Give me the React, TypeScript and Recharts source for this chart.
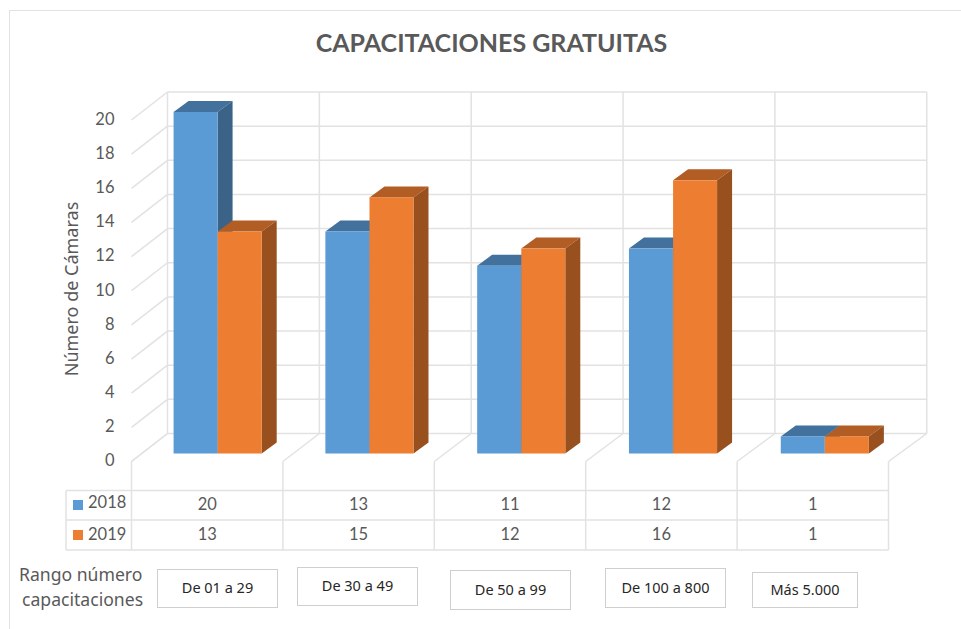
import * as React from "react";
import { BarChart, Bar, XAxis, YAxis, ReferenceLine } from "recharts";

const categories = ["De 01 a 29", "De 30 a 49", "De 50 a 99", "De 100 a 800", "Más 5.000"];
const values2018 = [20, 13, 11, 12, 1];
const values2019 = [13, 15, 12, 16, 1];
const yTicks = [0, 2, 4, 6, 8, 10, 12, 14, 16, 18, 20];

const chartData = categories.map((name, i) => ({
  name,
  y2018: values2018[i],
  y2019: values2019[i],
}));

const FONT = "Lato, sans-serif";
const SIDE_FONT = "'Noto Sans', sans-serif";
const GRID = "#e2e2e2";
const TEXT = "#595959";

const CHART_LEFT = 131.5;
const CHART_RIGHT = 888.5;

// the 3D look: floor/wall depth and the bar depth, in pixels
const WALL_DX = 36;
const WALL_DY = -28;
const BAR_SHIFT_X = 10;
const BAR_SHIFT_Y = -8;
const BAR_DX = 15;
const BAR_DY = -11;
// farther planes are very slightly wider than the front one
const WALL_STRETCH = 0.003;
const BAR_STRETCH = 0.0026;

const ROW_1 = 490.5;
const ROW_2 = 520;
const ROW_3 = 550;
const TABLE_LEFT = 66;

const labelBoxes = [
  { left: 157, top: 569, width: 121, height: 39 },
  { left: 297, top: 567, width: 121, height: 39 },
  { left: 450, top: 570, width: 121, height: 40 },
  { left: 605, top: 568, width: 121, height: 40 },
  { left: 752, top: 572, width: 106, height: 36 },
];

const wallX = (x: number) => x + WALL_DX + (x - CHART_LEFT) * WALL_STRETCH;

function make3DBar(front: string, top: string, side: string) {
  return (props: any) => {
    const x = props.x + BAR_SHIFT_X + (props.x - CHART_LEFT) * BAR_STRETCH;
    const y = props.y + BAR_SHIFT_Y;
    const { width, height } = props;
    return (
      <g>
        <polygon
          fill={top}
          points={`${x},${y} ${x + BAR_DX},${y + BAR_DY} ${x + width + BAR_DX},${y + BAR_DY} ${x + width},${y}`}
        />
        <polygon
          fill={side}
          points={`${x + width},${y} ${x + width + BAR_DX},${y + BAR_DY} ${x + width + BAR_DX},${y + height + BAR_DY} ${x + width},${y + height}`}
        />
        <rect x={x} y={y} width={width} height={height} fill={front} />
      </g>
    );
  };
}

// one gridline: short diagonal on the side wall and the long line on the back wall
function WallLine(props: any) {
  const { x1, x2, y1 } = props;
  const left = Math.min(x1, x2);
  const right = Math.max(x1, x2);
  return (
    <g stroke={GRID} strokeWidth={1.5} fill="none">
      <line x1={left} y1={y1} x2={wallX(left)} y2={y1 + WALL_DY} />
      <line x1={wallX(left)} y1={y1 + WALL_DY} x2={wallX(right)} y2={y1 + WALL_DY} />
    </g>
  );
}

// one column edge: wall vertical, floor diagonal and the drop into the table
function ColumnEdge(props: any) {
  const x = Math.min(props.x1, props.x2);
  const yTop = Math.min(props.y1, props.y2);
  const yBottom = Math.max(props.y1, props.y2);
  return (
    <g stroke={GRID} strokeWidth={1.5} fill="none">
      <line x1={wallX(x)} y1={yTop + WALL_DY} x2={wallX(x)} y2={yBottom + WALL_DY} />
      <line x1={wallX(x)} y1={yBottom + WALL_DY} x2={x} y2={yBottom} />
      <line x1={x} y1={yBottom} x2={x} y2={ROW_3} />
    </g>
  );
}

// table values are drawn under each category tick
function TableTick(props: any) {
  const { x, index } = props;
  const cell = (value: number, y: number) => (
    <text x={x} y={y} textAnchor="middle" dominantBaseline="central" fontSize={16.5} fontFamily={FONT} fill={TEXT}>
      {value}
    </text>
  );
  return (
    <g>
      {cell(values2018[index], 504)}
      {cell(values2019[index], 534)}
    </g>
  );
}

export default function App() {
  return (
    <div style={{ position: "absolute", left: 0, top: 0, width: 961, height: 629, background: "#fff", overflow: "hidden", fontFamily: FONT }}>
      <div style={{ position: "absolute", left: 9, top: 10, width: 960, height: 640, borderLeft: `1.5px solid ${GRID}`, borderTop: `1.5px solid ${GRID}` }} />
      <BarChart
        width={961}
        height={629}
        data={chartData}
        barCategoryGap={32}
        barGap={0}
        margin={{ left: CHART_LEFT - 60, right: 961 - CHART_RIGHT, top: 120, bottom: 107.5 }}
        style={{ position: "absolute", left: 0, top: 0 }}
      >
        <XAxis dataKey="name" axisLine={false} tickLine={false} height={60} interval={0} tick={<TableTick />} />
        <YAxis
          domain={[0, 20]}
          ticks={yTicks}
          interval={0}
          width={60}
          axisLine={false}
          tickLine={false}
          tickMargin={11}
          tick={{ fontSize: 16.5, fontFamily: FONT, fill: TEXT, dy: -1 }}
        />
        {yTicks.map((v) => (
          <ReferenceLine key={v} y={v} ifOverflow="visible" shape={<WallLine />} zIndex={100} />
        ))}
        {categories.map((c) => (
          <ReferenceLine key={c} x={c} position="start" ifOverflow="visible" shape={<ColumnEdge />} zIndex={100} />
        ))}
        <ReferenceLine x={categories[4]} position="end" ifOverflow="visible" shape={<ColumnEdge />} zIndex={100} />
        <Bar dataKey="y2018" fill="#5b9bd5" isAnimationActive={false} shape={make3DBar("#5b9bd5", "#41719c", "#3a6387")} />
        <Bar dataKey="y2019" fill="#ed7d31" isAnimationActive={false} shape={make3DBar("#ed7d31", "#b15d23", "#97501e")} />
      </BarChart>

      {/* data table lines */}
      <svg width={961} height={629} style={{ position: "absolute", left: 0, top: 0, pointerEvents: "none" }}>
        <g stroke={GRID} strokeWidth={1.5} fill="none">
          <line x1={TABLE_LEFT} y1={ROW_1} x2={CHART_RIGHT} y2={ROW_1} />
          <line x1={TABLE_LEFT} y1={ROW_2} x2={CHART_RIGHT} y2={ROW_2} />
          <line x1={TABLE_LEFT} y1={ROW_3} x2={CHART_RIGHT} y2={ROW_3} />
          <line x1={TABLE_LEFT} y1={ROW_1} x2={TABLE_LEFT} y2={ROW_3} />
        </g>
        <rect x={73} y={500} width={10} height={10} fill="#5b9bd5" />
        <rect x={73} y={530} width={10} height={10} fill="#ed7d31" />
        <text x={88} y={502} dominantBaseline="central" fontSize={16.5} fontFamily={FONT} fill={TEXT}>2018</text>
        <text x={88} y={534} dominantBaseline="central" fontSize={16.5} fontFamily={FONT} fill={TEXT}>2019</text>
      </svg>

      <div style={{ position: "absolute", left: 0, width: 983, top: 27, textAlign: "center", fontSize: 25, fontWeight: 700, color: TEXT }}>
        CAPACITACIONES GRATUITAS
      </div>
      <div style={{ position: "absolute", left: 71, top: 289, width: 0, height: 0 }}>
        <div style={{ transform: "translate(-50%, -50%) rotate(-90deg)", whiteSpace: "nowrap", fontSize: 18, fontFamily: SIDE_FONT, color: TEXT, width: "max-content" }}>
          Número de Cámaras
        </div>
      </div>
      <div style={{ position: "absolute", left: 19, top: 562, fontSize: 17.6, fontFamily: SIDE_FONT, color: TEXT, lineHeight: "25px", whiteSpace: "nowrap" }}>
        Rango número<br />
        <span style={{ marginLeft: 3 }}>capacitaciones</span>
      </div>
      {labelBoxes.map((b, i) => (
        <div
          key={categories[i]}
          style={{
            position: "absolute",
            left: b.left,
            top: b.top,
            width: b.width,
            height: b.height,
            boxSizing: "border-box",
            border: "1.5px solid #cfcfcf",
            display: "flex",
            alignItems: "center",
            justifyContent: "center",
            paddingBottom: 3,
            fontSize: 14.5,
            fontFamily: SIDE_FONT,
            color: "#262626",
          }}
        >
          {categories[i]}
        </div>
      ))}
    </div>
  );
}
